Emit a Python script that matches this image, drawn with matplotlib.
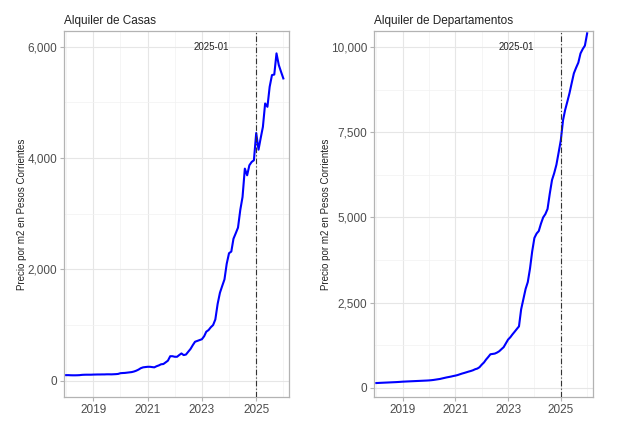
import numpy as np
import pandas as pd
import matplotlib
matplotlib.use("Agg")
import matplotlib.pyplot as plt
import matplotlib.dates as mdates
from matplotlib.ticker import FuncFormatter, FixedLocator

plt.rcParams['font.family'] = ['Liberation Sans', 'DejaVu Sans']

# monthly, 2018-01 .. 2026-01
meses = pd.date_range("2018-01-01", "2026-01-01", freq="MS")

casas = [
    100, 100, 98, 97, 97, 98, 100, 105, 107, 108, 108, 108,            # 2018
    110, 111, 112, 112, 113, 113, 115, 115, 114, 116, 118, 122,        # 2019
    135, 138, 140, 145, 150, 155, 165, 180, 200, 225, 240, 245,        # 2020
    250, 250, 245, 240, 260, 275, 295, 300, 330, 360, 440, 440,        # 2021
    430, 430, 460, 490, 460, 470, 520, 570, 640, 700, 715, 730,        # 2022
    745, 800, 880, 910, 960, 1000, 1100, 1380, 1580, 1700, 1820, 2100, # 2023
    2290, 2320, 2550, 2650, 2750, 3070, 3300, 3810, 3690, 3870, 3930, 3960,  # 2024
    4450, 4150, 4350, 4560, 4980, 4920, 5280, 5490, 5500, 5880, 5670, 5550,  # 2025
    5430,                                                               # 2026
]

deptos = [
    135, 138, 141, 144, 147, 150, 153, 156, 159, 162, 166, 170,
    175, 178, 181, 184, 187, 190, 193, 196, 199, 202, 205, 208,
    212, 218, 225, 235, 245, 255, 270, 285, 300, 312, 325, 340,
    353, 370, 390, 412, 430, 450, 470, 488, 510, 540, 560, 600,
    676, 740, 823, 900, 980, 990, 1000, 1030, 1070, 1130, 1190, 1300,
    1412, 1480, 1560, 1640, 1720, 1800, 2300, 2600, 2900, 3100, 3500, 4000,
    4400, 4530, 4600, 4820, 5000, 5100, 5250, 5700, 6100, 6300, 6550, 6900,
    7270, 7860, 8150, 8400, 8650, 8950, 9235, 9400, 9550, 9820, 9950, 10050,
    10410,
]

titulos = ["Alquiler de Casas", "Alquiler de Departamentos"]
ylabel = "Precio por m2 en Pesos Corrientes"
corte = pd.Timestamp("2025-01-01")
corte_label = "2025-01"
x_years = [2019, 2021, 2023, 2025]
x_minor = [2018, 2020, 2022, 2024, 2026]
y_major = [[0, 2000, 4000, 6000], [0, 2500, 5000, 7500, 10000]]
y_minor = [[1000, 3000, 5000], [1250, 3750, 6250, 8750]]
y_lims = [(-293, 6282), (-276, 10479)]
ylabel_x = [-0.165, -0.2]


def yfrac(y):
    return pd.Timestamp(year=int(y), month=1, day=1) + pd.Timedelta(days=(y - int(y)) * 365.25)


fig = plt.figure(figsize=(6.24, 4.33), dpi=100)
ax1 = fig.add_axes([0.1026, 0.0831, 0.3606, 0.8453])
ax2 = fig.add_axes([0.5998, 0.0831, 0.3500, 0.8453])

for i, (ax, serie) in enumerate(zip([ax1, ax2], [casas, deptos])):
    ax.plot(meses, serie, color="blue", lw=1.5, zorder=3)
    ax.axvline(corte, color="#333333", lw=0.8, ls=(0, (5, 2, 1, 2)), zorder=4)
    ax.text(pd.Timestamp("2024-01-01"), y_major[i][-1], corte_label,
            ha="right", va="center", fontsize=7, color="#222222")

    ax.set_xlim(yfrac(2017.92), yfrac(2026.21))
    ax.set_ylim(*y_lims[i])
    ax.xaxis.set_major_locator(FixedLocator([mdates.date2num(pd.Timestamp(year=y, month=1, day=1)) for y in x_years]))
    ax.xaxis.set_minor_locator(FixedLocator([mdates.date2num(pd.Timestamp(year=y, month=1, day=1)) for y in x_minor]))
    ax.xaxis.set_major_formatter(mdates.DateFormatter("%Y"))
    ax.yaxis.set_major_locator(FixedLocator(y_major[i]))
    ax.yaxis.set_minor_locator(FixedLocator(y_minor[i]))
    ax.yaxis.set_major_formatter(FuncFormatter(lambda v, p: f"{int(v):,}"))

    ax.grid(which="major", color="#E6E6E6", lw=0.8, zorder=0)
    ax.grid(which="minor", color="#F2F2F2", lw=0.5, zorder=0)
    ax.set_axisbelow(True)
    for s in ax.spines.values():
        s.set_color("#B3B3B3")
        s.set_linewidth(0.9)
    ax.tick_params(which="major", length=3, color="#B3B3B3", labelsize=8.5,
                   labelcolor="#4D4D4D", pad=2)
    ax.tick_params(which="minor", length=0)
    ax.set_ylabel(ylabel, fontsize=7, color="#222222")
    ax.yaxis.set_label_coords(ylabel_x[i], 0.5)
    ax.set_title(titulos[i], loc="left", fontsize=8.5, color="#222222", pad=5)

fig.savefig("out.png", dpi=100)
